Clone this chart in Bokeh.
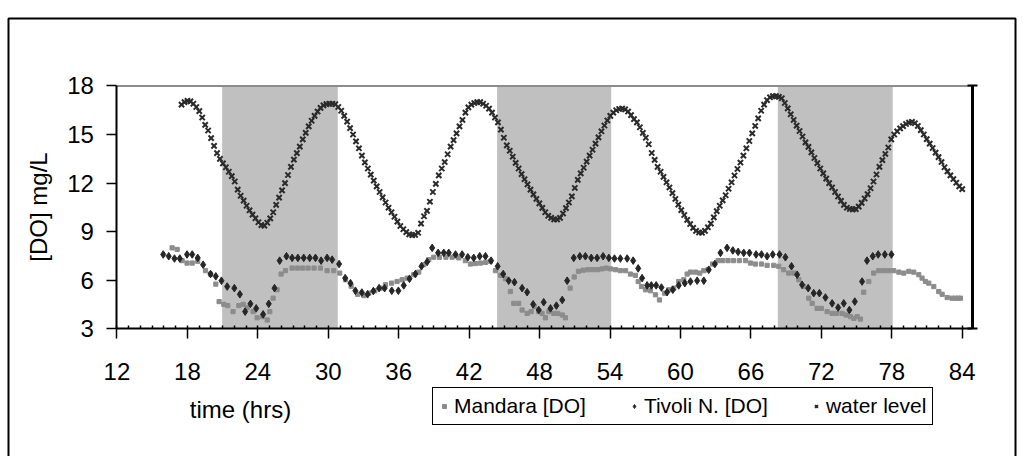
import numpy as np
from bokeh.plotting import figure
from bokeh.models import (Range1d, LinearAxis, SingleIntervalTicker, FixedTicker,
                          Legend, LegendItem, Label, BoxAnnotation)
from bokeh.embed import file_html
from bokeh.resources import INLINE

# ---------------- data ----------------
x_ticks_label_step = 6
y_min, y_max = 3, 18          # plotted value range
x_min, x_max = 12, 84.85      # plotted time range
# the frame spans the whole chart area; these are the range ends at the canvas edges
x_view = (2.08, 89.22)
y_view = (-4.89, 23.28)

night_start = [20.96, 44.38, 68.29]
night_end = [30.81, 54.10, 78.08]

mandara_time = [16.70, 17.13, 17.55, 17.97, 18.41, 18.88, 19.54, 19.97, 20.42, 20.70,
                21.10, 21.44, 21.89, 22.38, 22.75, 23.09, 23.60, 23.94, 24.40, 24.80,
                25.02, 25.30, 25.64, 25.98, 26.36, 26.92, 27.37, 27.83, 28.28, 28.79,
                29.33, 29.90, 30.47, 30.98, 31.47, 31.95, 32.51, 33.03, 33.45, 33.96,
                34.45, 34.87, 35.39, 35.86, 36.29, 36.72, 37.28, 37.70, 38.13, 38.56,
                38.98, 39.47, 40.02, 40.55, 41.11, 41.68, 42.11, 42.54, 42.96, 43.40,
                43.81, 44.24, 44.67, 45.09, 45.51, 45.80, 46.22, 46.51, 46.94, 47.28,
                47.57, 47.93, 48.21, 48.50, 48.79, 49.21, 49.55, 49.93, 50.20, 50.60,
                50.95, 51.31, 51.71, 52.11, 52.52, 52.92, 53.32, 53.68, 54.04, 54.46,
                54.88, 55.32, 55.74, 56.16, 56.40, 56.68, 57.02, 57.44, 57.87, 58.21,
                58.66, 59.01, 59.43, 59.85, 60.28, 60.57, 60.85, 61.27, 61.64, 61.99,
                62.35, 62.74, 63.21, 63.60, 64.05, 64.51, 65.01, 65.54, 65.96, 66.38,
                66.90, 67.38, 67.94, 68.37, 68.79, 69.22, 69.65, 70.08, 70.50, 70.93,
                71.22, 71.64, 72.00, 72.49, 72.92, 73.32, 73.77, 74.11, 74.48, 74.77,
                75.05, 75.33, 75.61, 76.04, 76.46, 76.89, 77.31, 77.71, 78.16, 78.60,
                79.02, 79.45, 79.87, 80.30, 80.58, 80.87, 81.15, 81.58, 82.00, 82.29,
                82.72, 83.14, 83.40, 83.65, 83.85]
mandara_do = [8.00, 7.90, 7.21, 7.06, 7.06, 7.17, 6.59, 6.38, 5.76, 4.68,
              4.51, 4.43, 4.06, 4.43, 4.51, 4.31, 4.06, 3.68, 3.75, 3.54,
              4.06, 4.89, 5.41, 6.38, 6.59, 6.75, 6.75, 6.75, 6.75, 6.75,
              6.75, 6.59, 6.59, 6.44, 6.03, 5.63, 5.13, 5.05, 5.20, 5.35,
              5.51, 5.72, 5.82, 5.92, 6.03, 6.13, 6.34, 6.50, 6.96, 7.27,
              7.42, 7.42, 7.42, 7.42, 7.38, 7.21, 7.00, 7.03, 7.06, 7.10,
              7.17, 6.59, 6.30, 6.09, 5.30, 4.57, 4.57, 4.16, 3.95, 4.06,
              4.37, 4.06, 3.95, 3.68, 4.06, 3.95, 3.95, 3.85, 3.68, 5.51,
              6.20, 6.55, 6.62, 6.65, 6.65, 6.65, 6.70, 6.75, 6.70, 6.65,
              6.59, 6.59, 6.38, 6.30, 5.92, 5.61, 5.41, 5.35, 5.10, 4.78,
              5.20, 5.41, 5.51, 5.92, 6.03, 6.38, 6.50, 6.50, 6.44, 6.59,
              6.65, 7.00, 7.21, 7.21, 7.21, 7.21, 7.21, 7.21, 7.06, 7.00,
              7.00, 6.92, 6.92, 6.86, 6.65, 6.44, 6.44, 6.03, 5.61, 4.89,
              4.57, 4.26, 4.26, 4.06, 3.95, 3.95, 3.95, 3.85, 3.75, 3.64,
              3.75, 3.60, 5.26, 5.92, 6.44, 6.59, 6.59, 6.59, 6.59, 6.50,
              6.44, 6.55, 6.50, 6.34, 6.13, 5.92, 5.82, 5.61, 5.30, 5.13,
              4.93, 4.89, 4.89, 4.89, 4.89]

tivoli_time = [15.94, 16.41, 16.90, 17.35, 17.97, 18.41, 18.88, 19.34, 19.97, 20.42,
               20.90, 21.39, 22.00, 22.47, 22.92, 23.37, 23.86, 24.45, 24.93, 25.42,
               25.86, 26.44, 26.92, 27.41, 27.91, 28.42, 28.91, 29.39, 29.90, 30.33,
               30.92, 31.44, 31.89, 32.31, 32.86, 33.35, 33.84, 34.33, 34.80, 35.41,
               35.97, 36.43, 36.92, 37.42, 37.94, 38.42, 38.85, 39.36, 39.84, 40.26,
               40.84, 41.40, 41.89, 42.39, 42.90, 43.39, 43.87, 44.43, 44.90, 45.37,
               45.86, 46.51, 46.94, 47.45, 47.93, 48.35, 48.93, 49.43, 49.93, 50.35,
               50.91, 51.43, 51.90, 52.40, 52.90, 53.41, 53.90, 54.38, 54.88, 55.46,
               55.97, 56.40, 56.73, 57.16, 57.52, 57.93, 58.38, 58.86, 59.35, 59.85,
               60.37, 60.85, 61.42, 61.99, 62.41, 62.93, 63.41, 63.97, 64.46, 64.91,
               65.39, 65.88, 66.44, 66.90, 67.38, 67.86, 68.44, 68.94, 69.46, 69.94,
               70.36, 70.88, 71.35, 71.83, 72.35, 72.92, 73.43, 73.91, 74.39, 74.85,
               75.47, 75.89, 76.38, 76.84, 77.41, 77.97]
tivoli_do = [7.59, 7.48, 7.34, 7.34, 7.59, 7.59, 7.38, 6.96, 6.38, 6.24,
             5.97, 5.61, 5.51, 5.13, 4.06, 4.54, 4.26, 3.89, 4.54, 5.51,
             7.21, 7.48, 7.38, 7.38, 7.38, 7.38, 7.38, 7.21, 7.38, 7.27,
             7.00, 6.13, 5.82, 5.35, 5.24, 5.13, 5.33, 5.51, 5.51, 5.35,
             5.35, 5.68, 6.09, 6.38, 6.86, 7.13, 8.00, 7.69, 7.69, 7.69,
             7.59, 7.59, 7.42, 7.38, 7.48, 7.48, 7.21, 6.86, 6.38, 5.97,
             5.88, 5.51, 5.26, 4.51, 4.16, 4.64, 4.26, 4.43, 4.78, 5.97,
             7.38, 7.48, 7.48, 7.38, 7.38, 7.48, 7.38, 7.34, 7.34, 7.34,
             7.21, 6.73, 6.13, 5.68, 5.68, 5.68, 5.55, 5.26, 5.41, 5.68,
             5.82, 5.92, 5.97, 5.97, 6.65, 7.00, 7.69, 8.00, 7.84, 7.75,
             7.69, 7.69, 7.59, 7.59, 7.48, 7.59, 7.59, 7.42, 6.86, 6.34,
             5.72, 5.51, 5.20, 5.20, 4.93, 4.57, 4.31, 4.57, 4.16, 4.68,
             5.92, 7.21, 7.48, 7.59, 7.59, 7.59]

# water level, logged every ~15 minutes from t = 17.5 h to t = 84 h
water_first, water_last = 17.5, 84.0
water_level = [16.85, 17.0,
               17.08, 17.05, 16.9, 16.7, 16.45, 16.05, 15.6, 15.25,
               14.78, 14.3, 13.85, 13.5, 13.22, 12.98, 12.7, 12.43,
               12.1, 11.6, 11.22, 10.92, 10.6, 10.32, 10.05, 9.83,
               9.58, 9.4, 9.37, 9.55, 9.82, 10.2, 10.65, 11.1,
               11.55, 12.0, 12.5, 13.0, 13.45, 13.85, 14.25, 14.7,
               15.1, 15.5, 15.85, 16.15, 16.42, 16.65, 16.8, 16.88,
               16.9, 16.9, 16.87, 16.7, 16.47, 16.15, 15.8, 15.4,
               15.0, 14.58, 14.15, 13.7, 13.28, 12.9, 12.52, 12.15,
               11.8, 11.45, 11.12, 10.8, 10.48, 10.2, 9.92, 9.62,
               9.35, 9.15, 8.97, 8.83, 8.79, 8.8, 8.93, 9.5,
               9.95, 10.28, 10.85, 11.45, 11.95, 12.48, 12.9, 13.3,
               13.78, 14.25, 14.65, 15.07, 15.5, 15.9, 16.35, 16.68,
               16.85, 16.95, 17.0, 17.0, 16.9, 16.78, 16.6, 16.35,
               16.05, 15.75, 15.3, 14.8, 14.33, 14.0, 13.63, 13.25,
               12.9, 12.55, 12.24, 11.92, 11.6, 11.3, 11.02, 10.75,
               10.47, 10.2, 9.98, 9.85, 9.76, 9.75, 9.85, 10.12,
               10.45, 10.8, 11.18, 11.7, 12.2, 12.6, 12.95, 13.33,
               13.7, 14.06, 14.44, 14.82, 15.2, 15.56, 15.87, 16.15,
               16.35, 16.5, 16.58, 16.61, 16.55, 16.42, 16.2, 15.95,
               15.75, 15.45, 15.1, 14.8, 14.4, 13.86, 13.43, 13.0,
               12.7, 12.38, 12.05, 11.73, 11.38, 11.02, 10.67, 10.33,
               10.03, 9.73, 9.47, 9.23, 9.05, 8.95, 8.93, 9.05,
               9.27, 9.5, 9.88, 10.27, 10.6, 10.93, 11.25, 11.65,
               12.05, 12.47, 12.87, 13.27, 13.7, 14.15, 14.6, 15.07,
               15.53, 16.0, 16.47, 16.85, 17.12, 17.3, 17.37, 17.37,
               17.33, 17.24, 16.95, 16.62, 16.25, 15.9, 15.55, 15.22,
               14.88, 14.52, 14.24, 13.9, 13.55, 13.23, 12.9, 12.6,
               12.28, 12.0, 11.73, 11.45, 11.17, 10.9, 10.65, 10.48,
               10.4, 10.38, 10.39, 10.55, 10.78, 11.05, 11.32, 11.68,
               12.1, 12.53, 13.0, 13.42, 13.8, 14.2, 14.7, 15.0,
               15.2, 15.38, 15.52, 15.65, 15.74, 15.78, 15.7, 15.53,
               15.27, 15.0, 14.72, 14.44, 14.17, 13.88, 13.6, 13.3,
               12.98, 12.72, 12.48, 12.25, 12.02, 11.8, 11.63]
water_time = np.linspace(water_first, water_last, len(water_level))

legend_labels = ["Mandara [DO]", "Tivoli N. [DO]", "water level"]
y_title = "[DO] mg/L"
x_title = "time (hrs)"

FONT = "Liberation Sans"

# ---------------- figure ----------------
p = figure(width=1023, height=456, output_backend="svg", toolbar_location=None,
           x_range=Range1d(*x_view), y_range=Range1d(*y_view),
           x_axis_location=None, y_axis_location=None, min_border=0,
           background_fill_color="white", border_fill_color="white",
           outline_line_color=None)
p.xgrid.visible = False
p.ygrid.visible = False

# night shading
p.quad(left=night_start, right=night_end, bottom=y_min, top=y_max,
       fill_color="#c0c0c0", line_color=None)

# grey top edge of the plot area
p.segment(x0=[x_min], y0=[y_max], x1=[x_max], y1=[y_max],
          line_color="#8c8c8c", line_width=2)

r_m = p.scatter(mandara_time, mandara_do, marker="square", size=4.2,
                fill_color="#8c8c8c", line_color="#8c8c8c")
r_t = p.scatter(tivoli_time, tivoli_do, marker="diamond", size=7.6,
                fill_color="#262626", line_color="#262626")
r_w = p.scatter(water_time, water_level, marker="x", size=7.4,
                line_color="#2a2a2a", line_width=2.0)

# x axis
xa = LinearAxis(fixed_location=y_min, bounds=(x_min, x_max),
                ticker=SingleIntervalTicker(interval=x_ticks_label_step, num_minor_ticks=6))
xa.axis_line_color = "black"
xa.axis_line_width = 2
xa.major_tick_line_color = "black"
xa.major_tick_line_width = 1.5
xa.major_tick_out = 10
xa.major_tick_in = 0
xa.minor_tick_line_color = "black"
xa.minor_tick_line_width = 1.5
xa.minor_tick_in = 3
xa.minor_tick_out = 0
xa.major_label_text_font = FONT
xa.major_label_text_font_size = "24px"
xa.major_label_text_color = "black"
xa.major_label_standoff = 24
p.add_layout(xa, "below")

# y axis
ya = LinearAxis(fixed_location=x_min, bounds=(y_min, y_max),
                ticker=SingleIntervalTicker(interval=3, num_minor_ticks=0))
ya.axis_line_color = "black"
ya.axis_line_width = 2
ya.major_tick_line_color = "black"
ya.major_tick_line_width = 1.5
ya.major_tick_out = 10
ya.major_tick_in = 0
ya.minor_tick_line_color = None
ya.major_label_text_font = FONT
ya.major_label_text_font_size = "24px"
ya.major_label_text_color = "black"
ya.major_label_standoff = 13
ya.axis_label = y_title
ya.axis_label_text_font = FONT
ya.axis_label_text_font_size = "24px"
ya.axis_label_text_font_style = "normal"
ya.axis_label_text_color = "black"
ya.axis_label_standoff = 12
p.add_layout(ya, "left")

# right axis (plain frame line)
ra = LinearAxis(fixed_location=x_max, bounds=(y_min, y_max),
                ticker=FixedTicker(ticks=[y_min, y_max]),
                major_label_overrides={y_min: "", y_max: ""},
                axis_line_color="black", axis_line_width=3,
                major_tick_line_color="black", major_tick_line_width=2,
                major_tick_in=5, major_tick_out=5,
                minor_tick_line_color=None)
p.add_layout(ra, "right")

# x title
p.add_layout(Label(x=240, y=47, x_units="screen", y_units="screen", text=x_title,
                   text_align="center", text_baseline="middle", text_font=FONT,
                   text_font_size="24px", text_color="black"))

# legend
legend = Legend(items=[LegendItem(label=legend_labels[0], renderers=[r_m]),
                       LegendItem(label=legend_labels[1], renderers=[r_t]),
                       LegendItem(label=legend_labels[2], renderers=[r_w])],
                orientation="horizontal", location=(432, 31), margin=0,
                border_line_color="black", border_line_width=1.5,
                border_line_alpha=1.0,
                background_fill_color="white", background_fill_alpha=1,
                label_text_font=FONT, label_text_font_size="21px",
                label_text_color="black", padding=6, spacing=43,
                glyph_width=10, glyph_height=20, label_standoff=5,
                label_height=20)
p.add_layout(legend)

# outer chart-area border (left, top, right; bottom lies below the window)
p.add_layout(BoxAnnotation(left=8, right=1015, top=438, bottom=-20,
                           left_units="screen", right_units="screen",
                           top_units="screen", bottom_units="screen",
                           fill_color=None, fill_alpha=0, line_color="black",
                           line_alpha=1.0, line_width=2))

open("out.html", "w").write(file_html(p, INLINE))
